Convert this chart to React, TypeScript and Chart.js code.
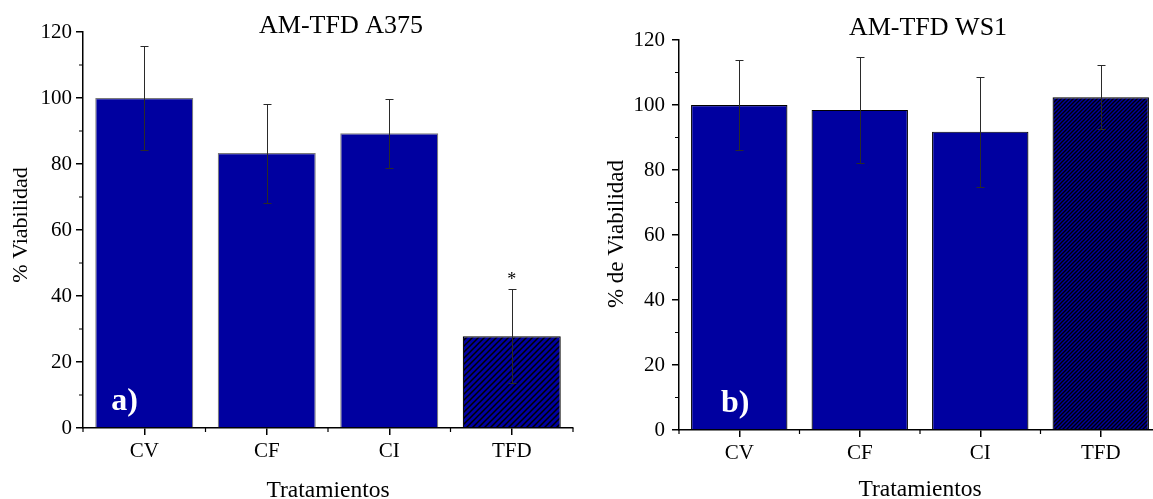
import React, { useEffect, useRef } from 'react';
import { Chart, registerables } from 'chart.js';

Chart.register(...registerables);

// ---- data ----
const categories = ['CV', 'CF', 'CI', 'TFD'];
const a375Values = [100, 83.3, 89.3, 27.8];
const a375Errors = [15.9, 15.0, 10.4, 14.3];
const a375Marks = ['', '', '', '*'];
const ws1Values = [100, 98.5, 91.8, 102.4];
const ws1Errors = [13.9, 16.4, 16.9, 9.8];
const ws1Marks = ['', '', '', ''];
const hatchedBars = [false, false, false, true];
const yMin = 0;
const yMax = 120;
const yStep = 20;
const yMinorValues = [10, 30, 50, 70, 90, 110];

const BLUE = '#0000A0';
const FONT = '"Liberation Serif", "Times New Roman", serif';

function makeHatch(size: number, lw: number) {
  const c = document.createElement('canvas');
  c.width = size;
  c.height = size;
  const g = c.getContext('2d')!;
  g.fillStyle = BLUE;
  g.fillRect(0, 0, size, size);
  g.strokeStyle = '#000';
  g.lineWidth = lw;
  g.beginPath();
  g.moveTo(0, size);
  g.lineTo(size, 0);
  g.moveTo(-size / 2, size / 2);
  g.lineTo(size / 2, -size / 2);
  g.moveTo(size / 2, size * 1.5);
  g.lineTo(size * 1.5, size / 2);
  g.stroke();
  return g.createPattern(c, 'repeat')!;
}

const decorPlugin = {
  id: 'decor',
  afterDatasetsDraw(chart: any, _args: any, opts: any) {
    const ctx = chart.ctx;
    const meta = chart.getDatasetMeta(0);
    const ys = chart.scales.y;
    const xs = chart.scales.x;
    const vals = chart.data.datasets[0].data;
    ctx.save();
    // error bars
    ctx.strokeStyle = '#2a2a2a';
    ctx.lineWidth = 1;
    meta.data.forEach((el: any, i: number) => {
      const v = vals[i];
      const e = opts.errors[i];
      const x = Math.round(el.x) + 0.5;
      const t = Math.round(ys.getPixelForValue(v + e)) + 0.5;
      const b = Math.round(ys.getPixelForValue(v - e)) + 0.5;
      ctx.beginPath();
      ctx.moveTo(x, t);
      ctx.lineTo(x, b);
      ctx.moveTo(x - 4, t);
      ctx.lineTo(x + 4, t);
      ctx.moveTo(x - 4, b);
      ctx.lineTo(x + 4, b);
      ctx.stroke();
      if (opts.marks[i]) {
        ctx.fillStyle = '#000';
        ctx.font = `18px ${FONT}`;
        ctx.textAlign = 'center';
        ctx.textBaseline = 'alphabetic';
        ctx.fillText(opts.marks[i], el.x, t - 5);
      }
    });
    // minor ticks
    ctx.strokeStyle = '#000';
    ctx.lineWidth = 1.2;
    ctx.beginPath();
    yMinorValues.forEach((v) => {
      const y = ys.getPixelForValue(v);
      ctx.moveTo(xs.left - 4, y);
      ctx.lineTo(xs.left, y);
    });
    const n = categories.length;
    for (let i = 0; i <= n; i++) {
      const x = xs.left + (i * (xs.right - xs.left)) / n;
      ctx.moveTo(x, ys.bottom);
      ctx.lineTo(x, ys.bottom + 4);
    }
    ctx.stroke();
    // panel label
    const first = meta.data[0];
    ctx.fillStyle = '#fff';
    ctx.font = `bold 32px ${FONT}`;
    ctx.textAlign = 'left';
    ctx.textBaseline = 'alphabetic';
    ctx.fillText(opts.panel, first.x - first.width / 2 + opts.panelDx, ys.getPixelForValue(0) - 18);
    ctx.restore();
  },
  afterDraw(chart: any, _args: any, opts: any) {
    const ctx = chart.ctx;
    const ca = chart.chartArea;
    ctx.save();
    ctx.fillStyle = '#000';
    ctx.textBaseline = 'alphabetic';
    ctx.textAlign = 'center';
    ctx.font = `26px ${FONT}`;
    ctx.fillText(opts.title, (ca.left + ca.right) / 2 + opts.titleDx, opts.titleY);
    ctx.font = `23.5px ${FONT}`;
    ctx.fillText('Tratamientos', (ca.left + ca.right) / 2, opts.xTitleY);
    ctx.font = `${opts.yTitleSize}px ${FONT}`;
    ctx.translate(opts.yTitleX, opts.yTitleY);
    ctx.rotate(-Math.PI / 2);
    ctx.textBaseline = 'middle';
    ctx.fillText(opts.yTitle, 0, 0);
    ctx.restore();
  },
};

type PanelProps = {
  width: number;
  values: number[];
  errors: number[];
  marks: string[];
  hatchSize: number;
  hatchWidth: number;
  solidBorder: string;
  axisLeft: number;
  axisTop: number;
  axisBottom: number;
  rightPad: number;
  yLabelPad: number;
  title: string;
  titleDx: number;
  titleY: number;
  yTitle: string;
  yTitleSize: number;
  yTitleX: number;
  yTitleY: number;
  xTitleY: number;
  panel: string;
  panelDx: number;
};

function Panel(p: PanelProps) {
  const ref = useRef<HTMLCanvasElement | null>(null);
  useEffect(() => {
    const canvas = ref.current!;
    const hatch = makeHatch(p.hatchSize, p.hatchWidth);
    const chart = new Chart(canvas, {
      type: 'bar',
      data: {
        labels: categories,
        datasets: [
          {
            data: p.values,
            backgroundColor: hatchedBars.map((h) => (h ? hatch : BLUE)) as any,
            borderColor: hatchedBars.map((h) => (h ? '#000' : p.solidBorder)),
            borderWidth: 1.2,
            categoryPercentage: 1,
            barPercentage: 0.8,
          },
        ],
      },
      options: {
        responsive: false,
        animation: false,
        devicePixelRatio: 1,
        layout: { padding: { top: p.axisTop, left: 0, right: p.rightPad, bottom: 0 } },
        plugins: {
          legend: { display: false },
          tooltip: { enabled: false },
          title: { display: false },
          decor: {
            errors: p.errors,
            marks: p.marks,
            title: p.title,
            titleDx: p.titleDx,
            titleY: p.titleY,
            yTitle: p.yTitle,
            yTitleSize: p.yTitleSize,
            yTitleX: p.yTitleX,
            yTitleY: p.yTitleY,
            xTitleY: p.xTitleY,
            panel: p.panel,
            panelDx: p.panelDx,
          },
        } as any,
        scales: {
          x: {
            offset: true,
            grid: {
              offset: false,
              drawOnChartArea: false,
              drawTicks: true,
              tickLength: 7,
              color: '#000',
              lineWidth: 1.5,
            },
            border: { display: true, color: '#000', width: 1.5 },
            ticks: { color: '#000', padding: 4, font: { family: FONT, size: 21 } },
            afterFit: (s: any) => {
              s.height = 499 - p.axisBottom;
            },
          },
          y: {
            min: yMin,
            max: yMax,
            grid: {
              drawOnChartArea: false,
              drawTicks: true,
              tickLength: 7,
              color: '#000',
              lineWidth: 1.5,
            },
            border: { display: true, color: '#000', width: 1.5 },
            ticks: { stepSize: yStep, color: '#000', padding: p.yLabelPad, font: { family: FONT, size: 21 } },
            afterFit: (s: any) => {
              s.width = p.axisLeft;
            },
          },
        },
      },
      plugins: [decorPlugin as any],
    });
    return () => chart.destroy();
  }, []);
  return (
    <canvas
      ref={ref}
      width={p.width}
      height={499}
      style={{ display: 'block', width: p.width, height: 499 }}
    />
  );
}

export default function App() {
  return (
    <div
      style={{
        position: 'absolute',
        left: 0,
        top: 0,
        width: 1153,
        height: 499,
        overflow: 'hidden',
        background: '#fff',
      }}
    >
      <div style={{ position: 'absolute', left: 0, top: 0 }}>
        <Panel
          width={580}
          values={a375Values}
          errors={a375Errors}
          marks={a375Marks}
          hatchSize={6}
          hatchWidth={1.5}
          solidBorder="#7a7a7a"
          axisLeft={83}
          axisTop={32}
          axisBottom={428}
          rightPad={7}
          yLabelPad={4}
          title="AM-TFD A375"
          titleDx={13}
          titleY={33}
          yTitle="% Viabilidad"
          yTitleSize={22}
          yTitleX={21}
          yTitleY={225}
          xTitleY={497}
          panel="a)"
          panelDx={16}
        />
      </div>
      <div style={{ position: 'absolute', left: 580, top: 0 }}>
        <Panel
          width={590}
          values={ws1Values}
          errors={ws1Errors}
          marks={ws1Marks}
          hatchSize={4}
          hatchWidth={1.4}
          solidBorder="#000"
          axisLeft={99}
          axisTop={40}
          axisBottom={430}
          rightPad={9}
          yLabelPad={7}
          title="AM-TFD WS1"
          titleDx={8}
          titleY={35}
          yTitle="% de Viabilidad"
          yTitleSize={23}
          yTitleX={37}
          yTitleY={234}
          xTitleY={496}
          panel="b)"
          panelDx={30}
        />
      </div>
    </div>
  );
}
